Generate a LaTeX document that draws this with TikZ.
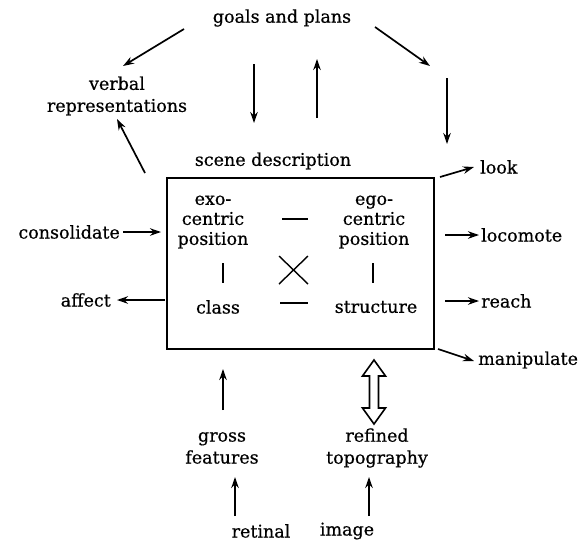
\documentclass[tikz,border=0pt]{standalone}
\usepackage{fontspec}
\setmainfont{DejaVu Serif}[FakeBold=0.6]
\usetikzlibrary{arrows.meta}
\begin{document}
\begin{tikzpicture}[x=1pt,y=-1pt,
  font=\fontsize{17.5}{20}\selectfont,
  arr/.style={line width=1.7pt, -{Stealth[length=11pt,width=7.5pt]}},
  lbl/.style={inner sep=0pt, align=center},
  wide/.style={font=\fontsize{17.5}{22}\selectfont},
  bar/.style={line width=1.6pt}]
\useasboundingbox (0,0) rectangle (588,544);
% labels
\node[lbl] (goals) at (282,18) {goals and plans};
\node[lbl, wide] (verbal) at (117,96) {verbal\\representations};
\node[lbl] (scene) at (273,161) {scene\ description};
\node[draw, line width=1.8pt, minimum width=267, minimum height=171, inner sep=0pt] (box) at (300.5,263.5) {};
\node[lbl] (exo) at (213,222) {exo-\\centric\\position};
\node[lbl] (ego) at (374,222) {ego-\\centric\\position};
\node[lbl] (class) at (218,307) {class};
\node[lbl] (struct) at (376,307) {structure};
\node[lbl, anchor=east] (consol) at (120,232) {consolidate};
\node[lbl, anchor=east] (affect) at (111,300) {affect};
\node[lbl, anchor=west] (look) at (480,167) {look};
\node[lbl, anchor=west] (loco) at (481,235) {locomote};
\node[lbl, anchor=west] (reach) at (481,301) {reach};
\node[lbl, anchor=west] (manip) at (478,360) {manipulate};
\node[lbl, wide] (gross) at (222,448) {gross\\features};
\node[lbl, wide] (refined) at (377,448) {refined\\topography};
\node[lbl] (retinal) at (261,531) {retinal};
\node[lbl] (image) at (347,531) {image};
% inner relations
\draw[bar] (282,219) -- (308,219);
\draw[bar] (280,303) -- (308,303);
\draw[bar] (223,263) -- (223,283);
\draw[bar] (373,263) -- (373,283);
\draw[line width=1.4pt] (279,256) -- (308,284) (308,256) -- (279,284);
% arrows top
\coordinate (g1) at (184,29);  \coordinate (v1) at (123,66);
\coordinate (g2) at (375,27);  \coordinate (l1) at (430,66);
\draw[arr] (g1) -- (v1);
\draw[arr] (g2) -- (l1);
\draw[arr] (254,64) -- (254,123);
\draw[arr] (317,118) -- (317,59);
\draw[arr] (447,78) -- (447,144);
\draw[arr] (145,173) -- (117,119);
% left
\draw[arr] (123,232) -- (161,232);
\draw[arr] (165,300) -- (117,300);
% right
\draw[arr] (440,177) -- (474,167);
\draw[arr] (445,235) -- (479,235);
\draw[arr] (445,301) -- (479,301);
\draw[arr] (438,349) -- (474,361);
% bottom
\draw[arr] (223,410) -- (223,369);
\draw[arr] (235,516) -- (235,477);
\draw[arr] (369,516) -- (369,477);
\draw[line width=1.6pt, line join=miter, fill=white]
  (374,360) -- (385.5,376) -- (378.5,376) -- (378.5,408) -- (385.5,408) -- (374,424)
  -- (362.5,408) -- (369.5,408) -- (369.5,376) -- (362.5,376) -- cycle;
\end{tikzpicture}
\end{document}
